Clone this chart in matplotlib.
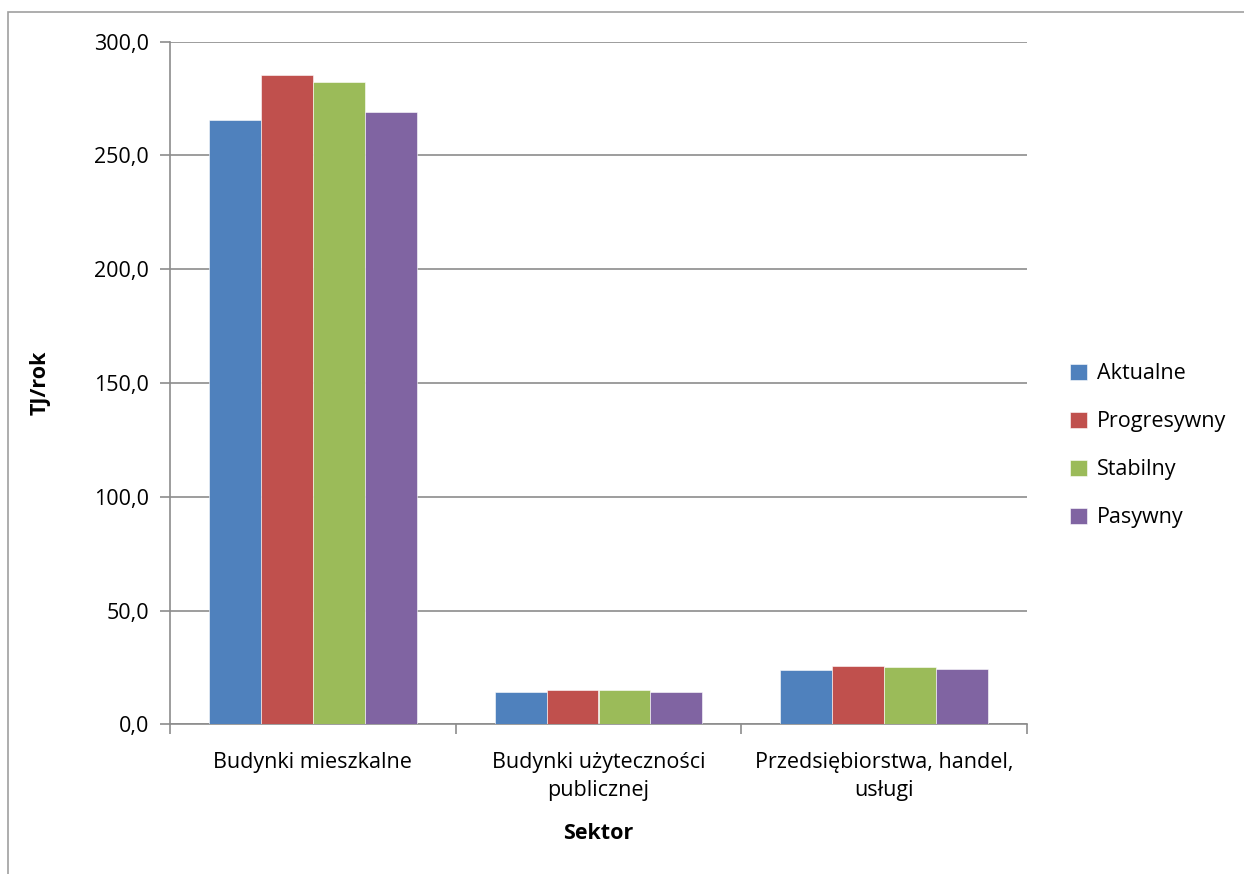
import numpy as np
import matplotlib
matplotlib.use('Agg')
import matplotlib.pyplot as plt
from matplotlib.patches import Rectangle

plt.rcParams['font.family'] = ['Open Sans', 'DejaVu Sans']

sektory = ['Budynki mieszkalne', 'Budynki użyteczności\npublicznej',
           'Przedsiębiorstwa, handel,\nusługi']
scenariusze = ['Aktualne', 'Progresywny', 'Stabilny', 'Pasywny']
aktualne = [265.8, 14.0, 23.8]
progresywny = [285.2, 15.1, 25.7]
stabilny = [282.2, 14.9, 25.3]
pasywny = [268.9, 14.0, 24.3]
kolory = ['#4F81BD', '#C0504D', '#9BBB59', '#8064A2']

serie = [aktualne, progresywny, stabilny, pasywny]
FS = 15.5

fig = plt.figure(figsize=(12.44, 8.74), dpi=100)
ax = fig.add_axes([170/1244, 1-724.3/874, (1027-170)/1244, (724.3-41.7)/874])

# ramka wykresu
fig.patches.append(Rectangle((8/1244, -0.1), 1.2, 1-12/874+0.1, transform=fig.transFigure,
                             fill=False, edgecolor='#a0a0a0', linewidth=1.2))

x = np.arange(len(sektory)) + 0.5
w = 0.182
for i, (s, c, nazwa) in enumerate(zip(serie, kolory, scenariusze)):
    ax.bar(x + (i - 1.5) * w, s, w, color=c, label=nazwa, zorder=3,
           edgecolor='white', linewidth=0.4)

ax.set_xlim(0, 3)
ax.set_ylim(0, 300)
ax.set_yticks(np.arange(0, 301, 50))
ax.set_yticklabels([('%.1f' % v).replace('.', ',') for v in np.arange(0, 301, 50)], fontsize=FS)
ax.yaxis.grid(True, color='#8c8c8c', linewidth=1.2, zorder=0)
ax.set_xticks([0, 1, 2, 3])
ax.set_xticklabels([])
ax.set_xticks(x, minor=True)
ax.set_xticklabels(sektory, minor=True, fontsize=FS, linespacing=1.45)
ax.tick_params(axis='x', which='minor', length=0, pad=20)
ax.tick_params(axis='x', which='major', length=7, color='#8c8c8c', width=1.2)
ax.tick_params(axis='y', length=7, color='#8c8c8c', width=1.2, pad=8)
for k in ['top', 'right']:
    ax.spines[k].set_visible(False)
for k in ['left', 'bottom']:
    ax.spines[k].set_color('#8c8c8c')
    ax.spines[k].set_linewidth(1.2)

ax.set_ylabel('TJ/rok', fontsize=FS, fontweight='bold', labelpad=31)
ax.set_xlabel('Sektor', fontsize=FS, fontweight='bold', labelpad=16)

ax.legend(loc='center left', bbox_to_anchor=(1.028, 0.408), frameon=False, fontsize=FS,
          handlelength=0.75, handleheight=0.75, labelspacing=1.25, handletextpad=0.5)

fig.savefig('out.png', dpi=100)
